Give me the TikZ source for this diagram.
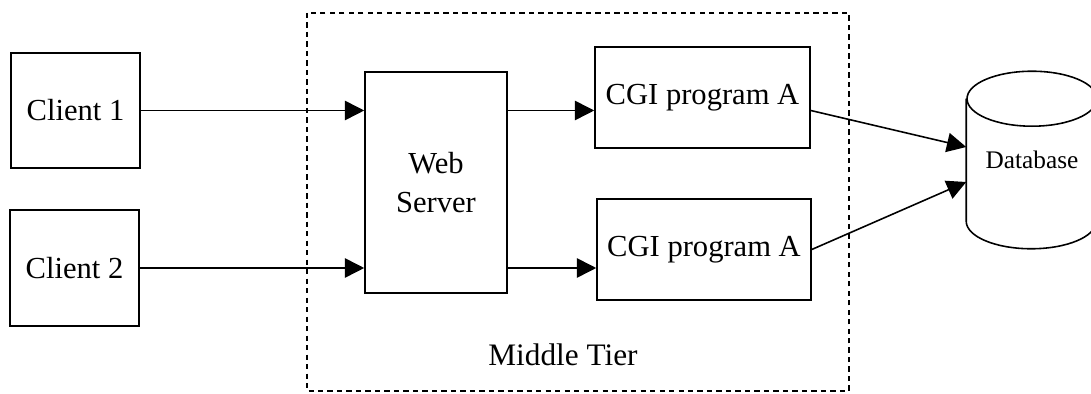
\documentclass[tikz,border=0pt]{standalone}
\usepackage{fontspec}
\setmainfont{Liberation Serif}
\usetikzlibrary{arrows.meta}

\begin{document}
\begin{tikzpicture}[x=0.02cm, y=-0.02cm, line width=0.9pt,
  box/.style={draw, rectangle, inner sep=0pt, font=\fontsize{17.4}{22.7}\selectfont},
  >={Triangle[length=11pt,width=11pt]}]
\useasboundingbox (0,0) rectangle (1091,394);
 \draw[dash pattern=on 3pt off 2.4pt] (307,13) rectangle (849,391);
 \node[font=\fontsize{17.8}{20}\selectfont] (tier) at (563,355) {Middle Tier};

  \node[box, minimum width=2.58cm, minimum height=2.3cm] (c1) at (75.5,110.5) {Client 1};
  \node[box, minimum width=2.58cm, minimum height=2.32cm] (c2) at (74.5,268) {Client 2};

  \node[box, align=center, minimum width=2.84cm, minimum height=4.42cm] (web) at (436,182.5) {Web\\Server};

  \node[box, minimum width=4.3cm, minimum height=2.02cm] (cgiA) at (702.5,97.5) {CGI program A};
  \node[box, minimum width=4.28cm, minimum height=2.02cm] (cgiB) at (704,249.5) {CGI program A};

  \node[minimum width=2.6cm, minimum height=3.52cm, inner sep=0pt,
        font=\fontsize{14.4}{17}\selectfont] (db) at (1032,160) {Database};
  \draw ([yshift=-0.55cm]db.north) ellipse [x radius=1.3cm, y radius=0.55cm];
  \draw ([yshift=-0.55cm]db.north west) -- ([yshift=0.55cm]db.south west)
    arc [start angle=180, end angle=360, x radius=1.3cm, y radius=0.55cm]
    -- ([yshift=-0.55cm]db.north east);

  \foreach \from/\to in {c1/web, c2/web}
   \draw[->] (\from.east) -- (\from.east -| \to.west);
  \draw[->] (web.east |- c1.east) -- (cgiA.west |- c1.east);
  \draw[->] (web.east |- c2.east) -- (cgiB.west |- c2.east);
  \draw[->] (cgiA.east |- c1.east) -- ([yshift=0.26cm]db.west);
  \draw[->] (cgiB.east) -- ([yshift=-0.44cm]db.west);
    \end{tikzpicture}
\end{document}
